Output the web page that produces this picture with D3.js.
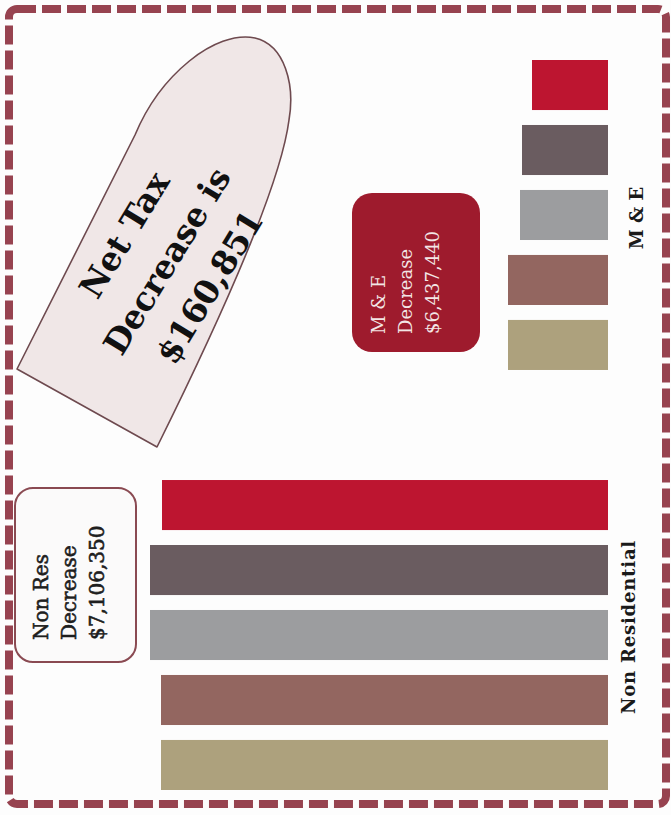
<!DOCTYPE html>
<html>
<head>
<meta charset="utf-8">
<script src="https://cdn.jsdelivr.net/npm/d3@7"></script>
<style>
  html, body { margin: 0; padding: 0; background: #fdfdfd; }
  svg { display: block; }
</style>
</head>
<body>
<svg id="chart" width="671" height="815"></svg>
<script>
// ---- data ----
const categories = ["M & E", "Non Residential"];
const seriesNames = ["Series 1", "Series 2", "Series 3", "Series 4", "Series 5"];
const meValues = [76, 86, 88, 100, 100];
const nonResValues = [446, 458, 458, 447, 447];
const seriesColors = ["#bd1530", "#6a5c60", "#9c9d9f", "#936660", "#ada17d"];
const meBoxLines = ["M & E", "Decrease", "$6,437,440"];
const nonResBoxLines = ["Non Res", "Decrease", "$7,106,350"];
const netLines = ["Net Tax", "Decrease is", "$160,851"];

const valuesByCategory = { "M & E": meValues, "Non Residential": nonResValues };

const svg = d3.select("#chart");
const W = 671, H = 815;

svg.append("rect").attr("width", W).attr("height", H).attr("fill", "#fdfdfd");

// ---- scales (chart rotated: bars grow leftwards from baseline) ----
const baseX = 608;
const x = d3.scaleLinear().domain([0, 460]).range([baseX, baseX - 460]);
const yGroup = d3.scaleBand().domain(categories).range([60, 790]).paddingInner(0.262).paddingOuter(0);
const ySeries = d3.scaleBand().domain(seriesNames).range([0, yGroup.bandwidth()]).paddingInner(0.23).paddingOuter(0);
const color = d3.scaleOrdinal().domain(seriesNames).range(seriesColors);

const rows = [];
categories.forEach(c => {
  valuesByCategory[c].forEach((v, i) => rows.push({ cat: c, s: seriesNames[i], v }));
});

svg.append("g").selectAll("rect").data(rows).join("rect")
  .attr("x", d => x(d.v))
  .attr("y", d => yGroup(d.cat) + ySeries(d.s))
  .attr("width", d => x(0) - x(d.v))
  .attr("height", ySeries.bandwidth())
  .attr("fill", d => color(d.s));

// category labels (rotated)
const labelPos = { "M & E": [636, 3], "Non Residential": [628, -8] };
svg.append("g").selectAll("text").data(categories).join("text")
  .attr("transform", d => `translate(${labelPos[d][0]},${yGroup(d) + yGroup.bandwidth() / 2 + labelPos[d][1]}) rotate(-90)`)
  .attr("text-anchor", "middle")
  .attr("dominant-baseline", "central")
  .attr("font-family", "DejaVu Serif")
  .attr("font-weight", "bold")
  .attr("font-size", 18)
  .attr("letter-spacing", d => d === "Non Residential" ? 0.8 : 0)
  .attr("fill", "#1a1a1a")
  .text(d => d);

// ---- M & E box ----
svg.append("rect")
  .attr("x", 352).attr("y", 193).attr("width", 128).attr("height", 159)
  .attr("rx", 20).attr("ry", 20)
  .attr("fill", "#9e1b2d");
svg.append("g").selectAll("text").data(meBoxLines).join("text")
  .attr("transform", (d, i) => `translate(${378 + i * 27},334) rotate(-90)`)
  .attr("dominant-baseline", "central")
  .attr("font-family", "DejaVu Serif")
  .attr("font-size", 18)
  .attr("fill", "#f3e6e6")
  .text(d => d);

// ---- Non Res box ----
svg.append("rect")
  .attr("x", 15).attr("y", 488).attr("width", 121).attr("height", 174)
  .attr("rx", 18).attr("ry", 18)
  .attr("fill", "#fbfafa").attr("stroke", "#8a4a52").attr("stroke-width", 2);
svg.append("g").selectAll("text").data(nonResBoxLines).join("text")
  .attr("transform", (d, i) => `translate(${41 + i * 28},640) rotate(-90)`)
  .attr("dominant-baseline", "central")
  .attr("font-family", "DejaVu Serif")
  .attr("font-size", 20)
  .attr("fill", "#1e1e1e")
  .attr("stroke", "#1e1e1e").attr("stroke-width", 0.6)
  .text(d => d);

// ---- Net tax bullet shape ----
svg.append("path")
  .attr("d", "M17,369 L135,135 C160,75 215,30 255,38 C285,45 295,85 289,120 C280,190 215,330 157,447 Z")
  .attr("fill", "#f0e7e7").attr("stroke", "#6e4a4f").attr("stroke-width", 1.6)
  .attr("stroke-linejoin", "round");
const ng = svg.append("g").attr("transform", "translate(167,261) rotate(-58.6)");
ng.selectAll("text").data(netLines).join("text")
  .attr("x", 0).attr("y", (d, i) => (i - 1) * 50)
  .attr("text-anchor", "middle")
  .attr("dominant-baseline", "central")
  .attr("font-family", "DejaVu Serif")
  .attr("font-weight", "bold")
  .attr("font-size", 33)
  .attr("fill", "#111")
  .text(d => d);

// ---- dashed border ----
svg.append("rect")
  .attr("x", 9).attr("y", 9).attr("width", 657).attr("height", 795)
  .attr("rx", 8).attr("ry", 8)
  .attr("fill", "none").attr("stroke", "#974350").attr("stroke-width", 8)
  .attr("stroke-dasharray", "19 6");
</script>
</body>
</html>
